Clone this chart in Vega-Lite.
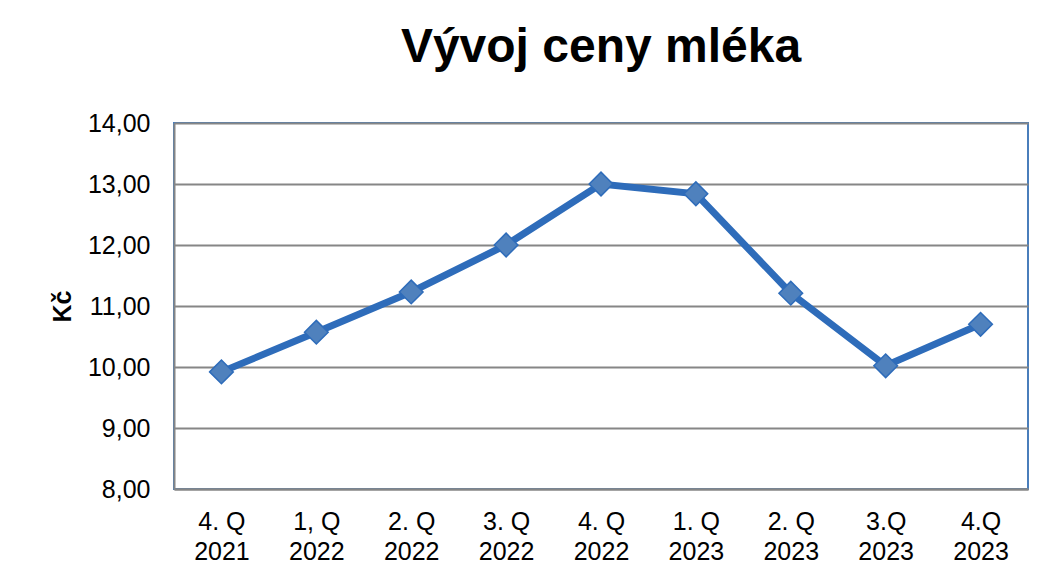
{
  "$schema": "https://vega.github.io/schema/vega-lite/v6.json",
  "autosize": "none",
  "width": 854,
  "height": 366,
  "padding": {"left": 174, "top": 123, "right": 20, "bottom": 92},
  "background": "white",
  "title": {
    "text": "Vývoj ceny mléka",
    "font": "Liberation Sans",
    "fontSize": 48,
    "fontWeight": "bold",
    "color": "#000000",
    "anchor": "middle",
    "offset": 39
  },
  "config": {
    "view": {"stroke": "#4A7EBB", "strokeWidth": 2},
    "font": "Liberation Sans"
  },
  "data": {
    "values": [
      {"obdobi": "4. Q 2021", "cena": 9.92},
      {"obdobi": "1, Q 2022", "cena": 10.57},
      {"obdobi": "2. Q 2022", "cena": 11.23},
      {"obdobi": "3. Q 2022", "cena": 12.0},
      {"obdobi": "4. Q 2022", "cena": 13.0},
      {"obdobi": "1. Q 2023", "cena": 12.84},
      {"obdobi": "2. Q 2023", "cena": 11.21},
      {"obdobi": "3.Q 2023", "cena": 10.02},
      {"obdobi": "4.Q 2023", "cena": 10.7}
    ]
  },
  "encoding": {
    "x": {
      "field": "obdobi",
      "type": "nominal",
      "sort": null,
      "scale": {"paddingInner": 0, "paddingOuter": 0},
      "axis": {
        "title": null,
        "labelAngle": 0,
        "labelFont": "Liberation Sans",
        "labelFontSize": 25,
        "labelColor": "#000000",
        "labelPadding": 20,
        "labelLineHeight": 30,
        "labelBaseline": "top",
        "ticks": false,
        "domainColor": "#868686",
        "domainWidth": 2,
        "grid": false,
        "labelExpr": "[substring(datum.label, 0, length(datum.label) - 5), substring(datum.label, length(datum.label) - 4)]"
      }
    },
    "y": {
      "field": "cena",
      "type": "quantitative",
      "scale": {"domain": [8, 14], "nice": false, "zero": false},
      "axis": {
        "title": "Kč",
        "titleFont": "Liberation Sans",
        "titleFontSize": 25,
        "titleFontWeight": "bold",
        "titleColor": "#000000",
        "titlePadding": 12,
        "values": [8, 9, 10, 11, 12, 13, 14],
        "labelFont": "Liberation Sans",
        "labelFontSize": 25,
        "labelColor": "#000000",
        "labelPadding": 24,
        "ticks": false,
        "domainColor": "#868686",
        "domainWidth": 2,
        "grid": true,
        "gridColor": "#868686",
        "gridWidth": 2,
        "labelExpr": "replace(format(datum.value, '.2f'), '.', ',')"
      }
    }
  },
  "layer": [
    {
      "mark": {"type": "line", "color": "#2E6CBA", "strokeWidth": 7}
    },
    {
      "mark": {"type": "point", "shape": "diamond", "filled": true, "size": 560, "fill": "#4F81BD", "stroke": "#2E6CBA", "strokeWidth": 1.5, "opacity": 1}
    }
  ]
}
